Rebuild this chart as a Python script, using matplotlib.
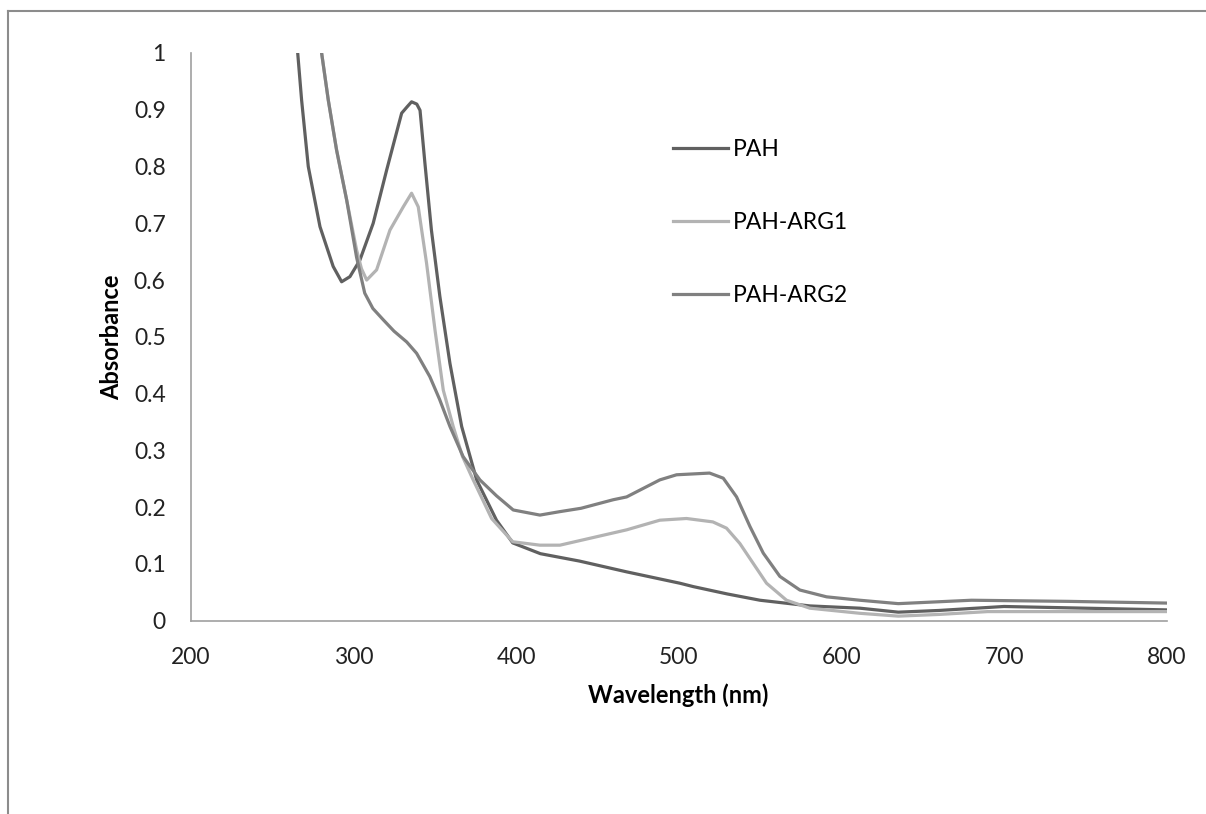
import matplotlib
matplotlib.use("Agg")
import matplotlib.pyplot as plt
from matplotlib.lines import Line2D

plt.rcParams['font.family'] = ['Lato', 'DejaVu Sans']

# wavelength (nm) / absorbance
pah_nm = [265.8, 268.2, 272.3, 279.5, 287.6, 292.8, 297.9, 304.0, 312.2, 320.5,
          329.7, 333.0, 335.8, 339.0, 341.0, 344.0, 348.0, 353.2, 359.4, 366.6,
          375.8, 388.0, 398.0, 415.0, 439.0, 468.0, 500.7, 509.0, 530.0, 550.0,
          580.6, 611.4, 635.0, 660.0, 700.0, 750.0, 800.0]
pah_abs = [1.0, 0.917, 0.80, 0.694, 0.624, 0.597, 0.606, 0.635, 0.70, 0.794,
           0.894, 0.905, 0.914, 0.91, 0.899, 0.806, 0.688, 0.571, 0.453, 0.342,
           0.248, 0.177, 0.137, 0.118, 0.105, 0.086, 0.066, 0.06, 0.047, 0.036,
           0.026, 0.022, 0.015, 0.018, 0.025, 0.022, 0.019]

arg1_nm = [280.5, 284.6, 289.7, 295.9, 302.0, 305.0, 308.2, 314.3, 322.5, 330.7,
           335.8, 339.9, 345.0, 350.2, 355.3, 361.4, 367.0, 372.7, 385.0, 398.0,
           414.7, 427.0, 468.0, 488.4, 504.8, 521.0, 529.4, 537.6, 545.8, 554.0,
           566.3, 580.6, 611.4, 635.0, 660.0, 690.0, 750.0, 800.0]
arg1_abs = [1.0, 0.917, 0.829, 0.741, 0.653, 0.62, 0.60, 0.618, 0.688, 0.729,
            0.753, 0.729, 0.63, 0.512, 0.406, 0.342, 0.29, 0.254, 0.18, 0.139,
            0.133, 0.133, 0.16, 0.177, 0.18, 0.174, 0.163, 0.136, 0.101, 0.066,
            0.036, 0.022, 0.013, 0.008, 0.011, 0.016, 0.016, 0.016]

arg2_nm = [280.5, 284.6, 289.7, 295.9, 302.0, 307.0, 312.0, 318.4, 325.0, 332.8,
           338.9, 347.0, 353.0, 359.4, 367.5, 377.8, 388.0, 398.3, 414.7, 426.8,
           440.0, 459.7, 468.0, 488.4, 498.7, 519.0, 527.4, 535.6, 543.8, 552.0,
           562.2, 574.5, 590.9, 611.4, 635.0, 680.0, 740.0, 800.0]
arg2_abs = [1.0, 0.917, 0.829, 0.741, 0.64, 0.577, 0.55, 0.53, 0.51, 0.491,
            0.471, 0.43, 0.39, 0.342, 0.289, 0.248, 0.22, 0.195, 0.186, 0.192,
            0.198, 0.213, 0.218, 0.248, 0.257, 0.26, 0.251, 0.218, 0.166, 0.119,
            0.078, 0.054, 0.042, 0.036, 0.03, 0.036, 0.034, 0.031]

series = [
    ("PAH", pah_nm, pah_abs, "#606060"),
    ("PAH-ARG1", arg1_nm, arg1_abs, "#b3b3b3"),
    ("PAH-ARG2", arg2_nm, arg2_abs, "#808080"),
]

fig = plt.figure(figsize=(12.06, 8.14), dpi=100)
ax = fig.add_axes([0.1581, 0.2375, 0.8093, 0.6974])

for name, x, y, c in series:
    ax.plot(x, y, color=c, lw=2.3, label=name, solid_joinstyle='round')

ax.set_xlim(200, 800)
ax.set_ylim(0, 1)
ax.set_xticks([200, 300, 400, 500, 600, 700, 800])
ax.set_yticks([0, 0.1, 0.2, 0.3, 0.4, 0.5, 0.6, 0.7, 0.8, 0.9, 1])
ax.set_yticklabels(["0", "0.1", "0.2", "0.3", "0.4", "0.5", "0.6", "0.7", "0.8", "0.9", "1"])
ax.tick_params(axis='both', length=0, labelsize=16.5, colors='#222222')
ax.tick_params(axis='y', pad=18)
ax.tick_params(axis='x', pad=19)
for side in ['top', 'right']:
    ax.spines[side].set_visible(False)
for side in ['left', 'bottom']:
    ax.spines[side].set_color('#a0a0a0')
    ax.spines[side].set_linewidth(1.2)

ax.set_xlabel("Wavelength (nm)", fontsize=17, fontweight='bold', labelpad=11)
ax.set_ylabel("Absorbance", fontsize=17, fontweight='bold', labelpad=8)

fig.legend(loc='upper left', bbox_to_anchor=(673 / 1206, 1 - 139 / 814),
           frameon=False, fontsize=16.5, handlelength=2.4, handletextpad=0.2,
           labelspacing=2.28, borderpad=0, borderaxespad=0)

# chart-area border (top and left edges visible)
fig.add_artist(Line2D([8 / 1206, 1.0], [1 - 11 / 814] * 2, color='#8c8c8c', lw=1.5))
fig.add_artist(Line2D([8 / 1206] * 2, [0, 1 - 11 / 814], color='#8c8c8c', lw=1.5))

fig.savefig("out.png", dpi=100)
